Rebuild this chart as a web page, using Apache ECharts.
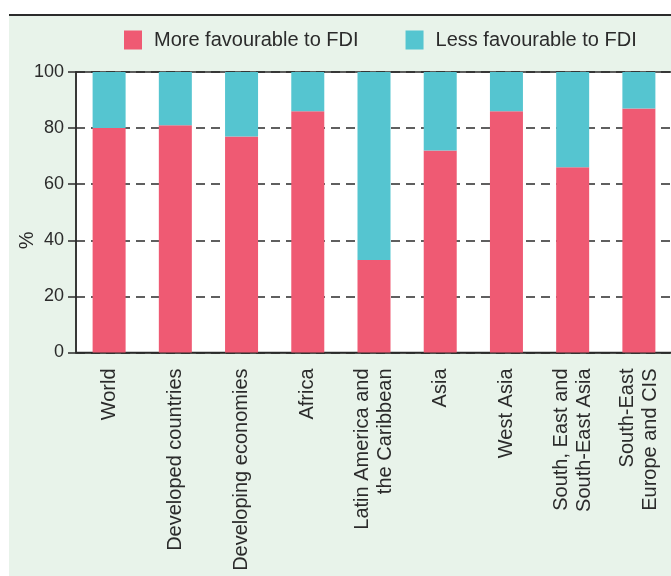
<!DOCTYPE html>
<html>
<head>
<meta charset="utf-8">
<script src="https://cdn.jsdelivr.net/npm/echarts@6/dist/echarts.min.js"></script>
<style>
  html, body { margin: 0; padding: 0; background: #fff; }
  #wrap { position: relative; width: 671px; height: 576px; }
  #panel { position: absolute; left: 9px; top: 14px; right: 0; bottom: 0; background: #e8f3ea; border-top: 2px solid #2b2b2b; }
  #chart { position: absolute; left: 0; top: 0; width: 671px; height: 576px; }
</style>
</head>
<body>
<div id="wrap">
  <div id="panel"></div>
  <div id="chart"></div>
</div>
<script>
const categories = [
  'World',
  'Developed countries',
  'Developing economies',
  'Africa',
  'Latin America and\nthe Caribbean',
  'Asia',
  'West Asia',
  'South, East and\nSouth-East Asia',
  'South-East\nEurope and CIS'
];
const moreFavourable = [80, 81, 77, 86, 33, 72, 86, 66, 87];
const lessFavourable = [20, 19, 23, 14, 67, 28, 14, 34, 13];
const yTicks = [0, 20, 40, 60, 80, 100];

const font = 'Liberation Sans, Arial, sans-serif';
const ink = '#2b2b2b';

const chart = echarts.init(document.getElementById('chart'));
chart.setOption({
  backgroundColor: 'transparent',
  animation: false,
  legend: {
    left: 124,
    top: 30,
    padding: 0,
    itemWidth: 18,
    itemHeight: 19,
    itemGap: 47,
    icon: 'rect',
    textStyle: { fontFamily: font, fontSize: 20, color: ink, padding: [0, 0, 0, 7] },
    data: ['More favourable to FDI', 'Less favourable to FDI']
  },
  grid: {
    left: 76, right: -1, top: 72, bottom: 223.5,
    outerBoundsMode: 'none',
    containLabel: false,
    show: true,
    backgroundColor: '#fff',
    borderColor: ink,
    borderWidth: 1.5
  },
  xAxis: {
    type: 'category',
    data: categories,
    axisLine: { lineStyle: { color: ink, width: 1.5 } },
    axisTick: { length: 5, lineStyle: { color: ink, width: 1.5 } },
    axisLabel: {
      rotate: 90,
      margin: 16,
      interval: 0,
      fontFamily: font,
      fontSize: 20,
      lineHeight: 23,
      color: ink
    }
  },
  yAxis: {
    type: 'value',
    min: yTicks[0],
    max: yTicks[yTicks.length - 1],
    interval: 20,
    name: '%',
    nameLocation: 'middle',
    nameMoveOverlap: false,
    nameGap: 39,
    nameTextStyle: { fontFamily: font, fontSize: 20, color: ink, padding: [0, 56, 0, 0] },
    axisLine: { show: true, lineStyle: { color: ink, width: 1.5 } },
    axisTick: { show: true, inside: false, length: 8, lineStyle: { color: ink, width: 1.5 } },
    axisLabel: { fontFamily: font, fontSize: 18, color: ink, margin: 12 },
    splitLine: { lineStyle: { color: ink, width: 1.5, type: [9, 6] } }
  },
  series: [
    {
      name: 'More favourable to FDI',
      type: 'bar',
      stack: 'total',
      barWidth: 33,
      itemStyle: { color: '#ef5a73' },
      data: moreFavourable
    },
    {
      name: 'Less favourable to FDI',
      type: 'bar',
      stack: 'total',
      barWidth: 33,
      itemStyle: { color: '#55c5d0' },
      data: lessFavourable
    }
  ]
});
</script>
</body>
</html>
